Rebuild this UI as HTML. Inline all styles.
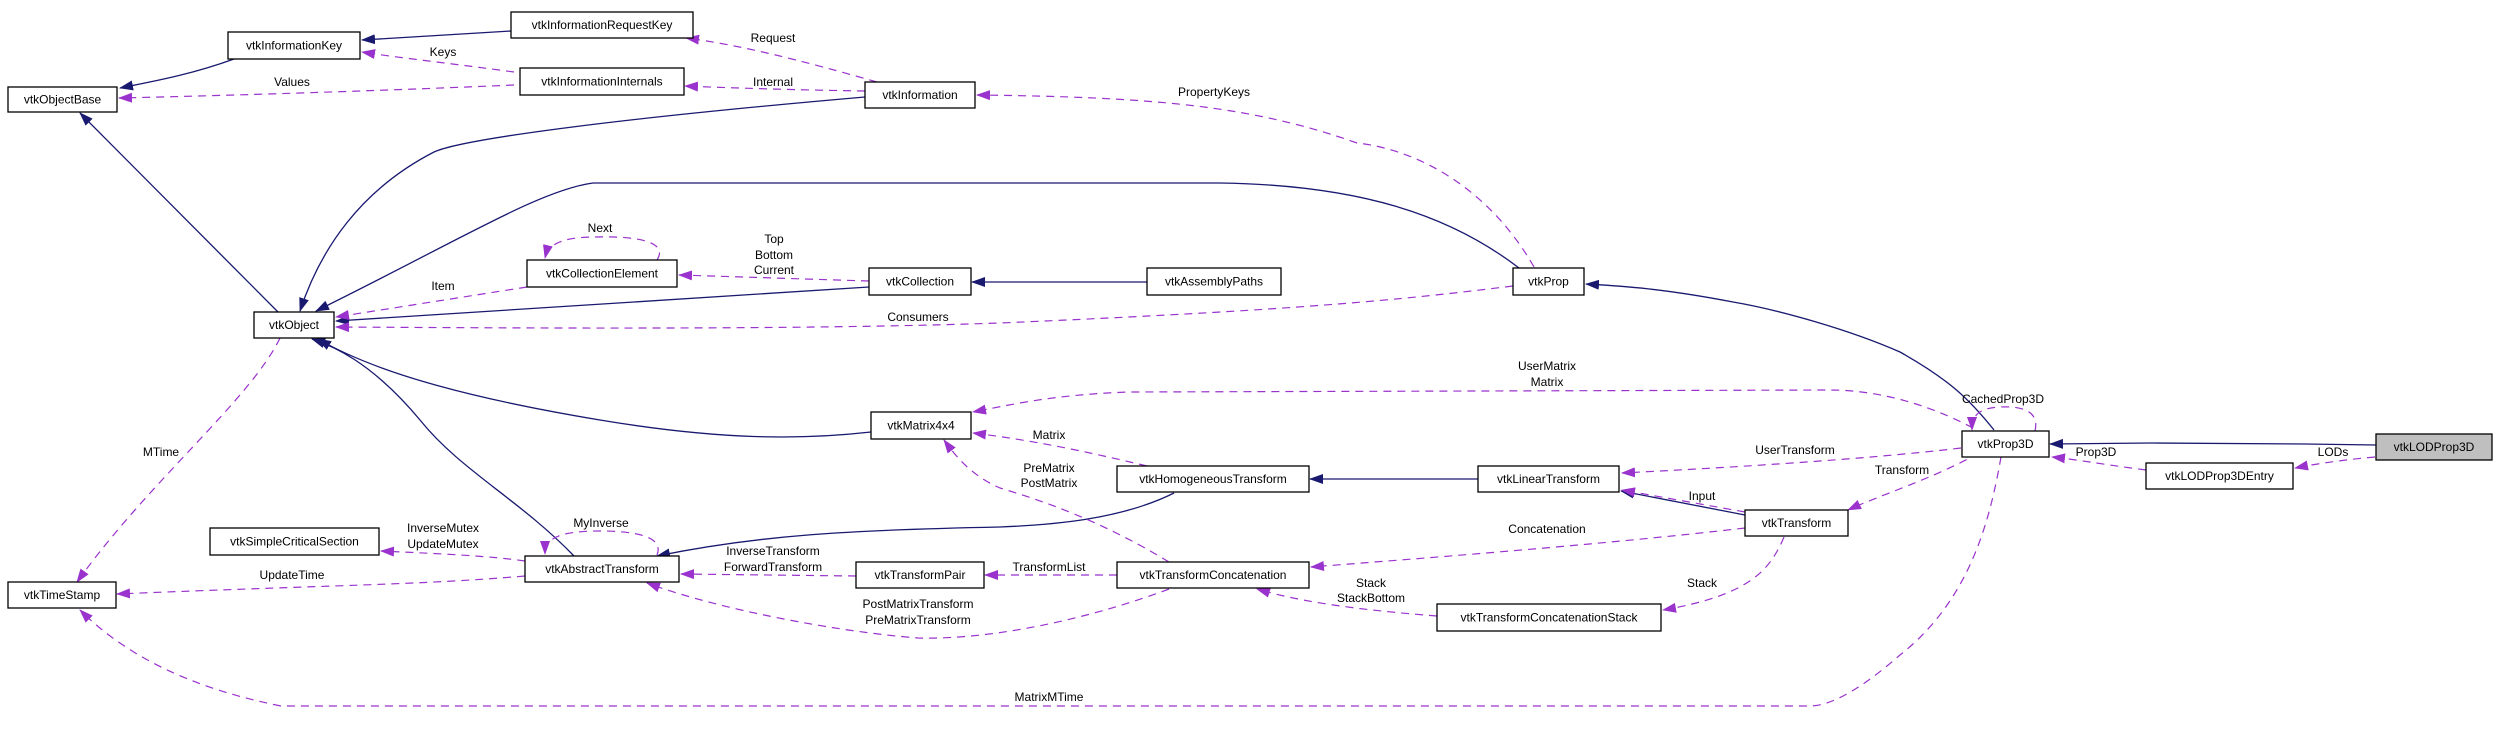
<!DOCTYPE html>
<html><head><meta charset="utf-8"><style>
html,body{margin:0;padding:0;background:#fff;}
svg{display:block;}
text{font-family:"Liberation Sans",sans-serif;font-size:12px;fill:#000;}
</style></head><body>
<svg width="2493" height="735" viewBox="0 0 2493 735" xmlns="http://www.w3.org/2000/svg">
<defs>
<marker id="n" markerUnits="userSpaceOnUse" markerWidth="14" markerHeight="10" refX="13" refY="5" orient="auto"><path d="M0,0 L14,5 L0,10 z" fill="#191970"/></marker>
<marker id="p" markerUnits="userSpaceOnUse" markerWidth="14" markerHeight="10" refX="13" refY="5" orient="auto"><path d="M0,0 L14,5 L0,10 z" fill="#9a32cd"/></marker>
</defs>
<g fill="none" stroke="#191970" stroke-width="1.3" marker-end="url(#n)">
<path d="M511,31 L362,40"/>
<path d="M234,59 C190,75 150,82 120,88"/>
<path d="M278,312 L80,113"/>
<path d="M865,97 C600,120 460,140 434,152 C360,190 320,250 300,311"/>
<path d="M1519,268 C1450,215 1360,185 1220,183 L593,183 C540,190 460,240 316,311"/>
<path d="M869,287 L336,321"/>
<path d="M1147,282 L972,282"/>
<path d="M871,432 C800,440 720,440 600,420 C480,400 380,375 318,339"/>
<path d="M574,556 C520,500 460,470 420,420 C370,360 330,345 312,339"/>
<path d="M1174,493 C1120,520 1050,525 1000,527 C850,530 760,535 657,556"/>
<path d="M1478,479 L1310,479"/>
<path d="M1745,515 L1621,491"/>
<path d="M1994,430 C1970,400 1950,380 1900,352 C1850,330 1780,310 1733,302 C1660,288 1620,286 1586,284"/>
<path d="M2376,445 L2305,444 L2151,443 L2050,444"/>
</g>
<g fill="none" stroke="#9a32cd" stroke-width="1.2" stroke-dasharray="8,6" marker-end="url(#p)">
<path d="M877,82 C800,60 740,45 686,38"/>
<path d="M514,72 C440,62 400,58 362,52"/>
<path d="M514,85 C400,90 250,95 119,98"/>
<path d="M865,91 C800,90 730,88 685,86"/>
<path d="M1534,267 C1490,190 1420,150 1357,143 C1250,105 1150,97 977,95"/>
<path d="M657,260 C670,240 630,236 596,237 C560,237 548,245 545,258"/>
<path d="M869,281 L679,275"/>
<path d="M527,287 L336,317"/>
<path d="M1513,286 C1400,300 1300,310 1000,323 C800,330 520,328 336,327"/>
<path d="M280,338 C250,400 150,480 77,582"/>
<path d="M1973,428 C1920,400 1870,390 1829,390 L1128,392 C1050,395 1010,405 973,412"/>
<path d="M1147,466 C1080,450 1030,440 973,433"/>
<path d="M1169,562 C1100,520 1040,500 1000,488 C970,475 955,455 944,440"/>
<path d="M2035,431 C2040,410 2020,406 2000,407 C1978,408 1972,416 1972,430"/>
<path d="M1961,448 C1860,460 1720,468 1622,473"/>
<path d="M1979,453 C1930,480 1880,495 1848,510"/>
<path d="M1745,512 L1622,490"/>
<path d="M1745,528 C1600,545 1400,560 1311,567"/>
<path d="M1784,537 C1770,570 1750,595 1663,610"/>
<path d="M1437,616 C1360,610 1300,602 1257,589"/>
<path d="M1117,575 L985,575"/>
<path d="M856,576 L681,574"/>
<path d="M1169,589 C1100,615 1000,640 918,638 C840,632 720,610 647,583"/>
<path d="M657,555 C665,535 630,531 600,531 C560,531 545,538 545,554"/>
<path d="M525,561 C490,556 446,554 381,551"/>
<path d="M525,576 C420,585 332,585 117,594"/>
<path d="M2001,457 C1990,520 1970,600 1900,655 C1860,690 1830,706 1810,706 L281,706 C200,690 130,660 80,610"/>
<path d="M2375,457 C2340,460 2310,465 2295,468"/>
<path d="M2146,470 C2100,464 2080,460 2052,457"/>
</g>
<g stroke="#000" stroke-width="1.3" fill="#fff">
<rect x="511" y="12" width="182" height="26"/>
<rect x="228" y="32" width="132" height="27"/>
<rect x="8" y="87" width="109" height="25"/>
<rect x="520" y="68" width="164" height="27"/>
<rect x="865" y="82" width="110" height="26"/>
<rect x="527" y="260" width="150" height="27"/>
<rect x="869" y="268" width="102" height="27"/>
<rect x="254" y="312" width="80" height="26"/>
<rect x="1147" y="268" width="134" height="27"/>
<rect x="1513" y="268" width="71" height="27"/>
<rect x="871" y="412" width="100" height="27"/>
<rect x="210" y="528" width="169" height="27"/>
<rect x="525" y="556" width="154" height="26"/>
<rect x="856" y="562" width="128" height="26"/>
<rect x="8" y="582" width="108" height="26"/>
<rect x="1117" y="466" width="192" height="26"/>
<rect x="1478" y="466" width="141" height="26"/>
<rect x="1745" y="510" width="103" height="26"/>
<rect x="1117" y="562" width="192" height="26"/>
<rect x="1437" y="604" width="224" height="27"/>
<rect x="1962" y="431" width="87" height="26"/>
<rect x="2146" y="463" width="147" height="26"/>
<rect x="2376" y="434" width="116" height="26" fill="#bfbfbf"/>
</g>
<g text-anchor="middle" dominant-baseline="central">
<text x="602" y="25">vtkInformationRequestKey</text>
<text x="294" y="45.5">vtkInformationKey</text>
<text x="62.5" y="99.5">vtkObjectBase</text>
<text x="602" y="81.5">vtkInformationInternals</text>
<text x="920" y="95">vtkInformation</text>
<text x="602" y="273.5">vtkCollectionElement</text>
<text x="920" y="281.5">vtkCollection</text>
<text x="294" y="325">vtkObject</text>
<text x="1214" y="281.5">vtkAssemblyPaths</text>
<text x="1548.5" y="281.5">vtkProp</text>
<text x="921" y="425.5">vtkMatrix4x4</text>
<text x="294.5" y="541.5">vtkSimpleCriticalSection</text>
<text x="602" y="569">vtkAbstractTransform</text>
<text x="920" y="575">vtkTransformPair</text>
<text x="62" y="595">vtkTimeStamp</text>
<text x="1213" y="479">vtkHomogeneousTransform</text>
<text x="1548.5" y="479">vtkLinearTransform</text>
<text x="1796.5" y="523">vtkTransform</text>
<text x="1213" y="575">vtkTransformConcatenation</text>
<text x="1549" y="617.5">vtkTransformConcatenationStack</text>
<text x="2005.5" y="444">vtkProp3D</text>
<text x="2219.5" y="476">vtkLODProp3DEntry</text>
<text x="2434" y="447">vtkLODProp3D</text>

<text x="773" y="38">Request</text>
<text x="443" y="52">Keys</text>
<text x="292" y="82">Values</text>
<text x="773" y="82">Internal</text>
<text x="1214" y="92">PropertyKeys</text>
<text x="600" y="228">Next</text>
<text x="774" y="239">Top</text>
<text x="774" y="255">Bottom</text>
<text x="774" y="270">Current</text>
<text x="443" y="286">Item</text>
<text x="918" y="317">Consumers</text>
<text x="161" y="452">MTime</text>
<text x="1547" y="366">UserMatrix</text>
<text x="1547" y="382">Matrix</text>
<text x="1049" y="435">Matrix</text>
<text x="1049" y="468">PreMatrix</text>
<text x="1049" y="483">PostMatrix</text>
<text x="2003" y="399">CachedProp3D</text>
<text x="1795" y="450">UserTransform</text>
<text x="1902" y="470">Transform</text>
<text x="1702" y="496">Input</text>
<text x="1547" y="529">Concatenation</text>
<text x="1702" y="583">Stack</text>
<text x="1371" y="583">Stack</text>
<text x="1371" y="598">StackBottom</text>
<text x="1049" y="567">TransformList</text>
<text x="773" y="551">InverseTransform</text>
<text x="773" y="567">ForwardTransform</text>
<text x="918" y="604">PostMatrixTransform</text>
<text x="918" y="620">PreMatrixTransform</text>
<text x="601" y="523">MyInverse</text>
<text x="443" y="528">InverseMutex</text>
<text x="443" y="544">UpdateMutex</text>
<text x="292" y="575">UpdateTime</text>
<text x="1049" y="697">MatrixMTime</text>
<text x="2333" y="452">LODs</text>
<text x="2096" y="452">Prop3D</text>
</g>
</svg>
</body></html>
